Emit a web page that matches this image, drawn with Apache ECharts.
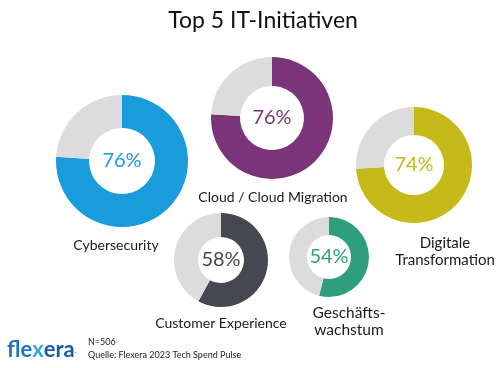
<!DOCTYPE html>
<html>
<head>
<meta charset="utf-8">
<script src="https://cdn.jsdelivr.net/npm/echarts@6/dist/echarts.min.js"></script>
<style>
html,body{margin:0;padding:0;background:#fff;}
#chart{width:501px;height:368px;}
</style>
</head>
<body>
<div id="chart"></div>
<script>
var categories = ['Cybersecurity', 'Cloud / Cloud Migration', 'Digitale Transformation', 'Customer Experience', 'Geschäftswachstum'];
var labelLines = ['Cybersecurity', 'Cloud / Cloud Migration', 'Digitale\nTransformation', 'Customer Experience', 'Geschäfts-\nwachstum'];
var values = [76, 76, 74, 58, 54];
var colors = ['#1a9bdb', '#7a3578', '#c6ba1b', '#45494f', '#2f9e7c'];
var titleText = 'Top 5 IT-Initiativen';
var footnoteN = 'N=506';
var footnoteSource = 'Quelle: Flexera 2023 Tech Spend Pulse';

// layout (positions/sizes)
var centers = [[122, 161], [272, 118], [414, 165], [221, 260], [329, 257]];
var radii = [[33, 66], [32, 61], [30, 58], [23, 47], [22, 40]];
var labelPos = [[116, 245], [273, 197], [445, 252], [221, 323], [349, 321]];
var labelSizes = [14, 14, 15, 14, 15.5];

var FONT = 'Lato, "Open Sans", sans-serif';

var series = categories.map(function (name, i) {
  return {
    type: 'pie',
    name: name,
    center: centers[i],
    radius: radii[i],
    startAngle: 90,
    clockwise: true,
    silent: true,
    animation: false,
    avoidLabelOverlap: false,
    labelLine: { show: false },
    data: [
      {
        value: values[i],
        name: name,
        itemStyle: { color: colors[i] },
        label: {
          show: true,
          position: 'center',
          formatter: '{c}%',
          color: colors[i],
          fontSize: 20,
          fontWeight: 'normal',
          fontFamily: FONT
        }
      },
      {
        value: 100 - values[i],
        name: 'Rest',
        itemStyle: { color: '#dcdcdc' },
        label: { show: false }
      }
    ]
  };
});

var graphics = labelLines.map(function (t, i) {
  return {
    type: 'text',
    x: labelPos[i][0],
    y: labelPos[i][1],
    style: {
      text: t,
      fill: '#1a1a1a',
      font: labelSizes[i] + 'px ' + FONT,
      align: 'center',
      verticalAlign: 'middle',
      lineHeight: 17
    }
  };
});

graphics.push({
  type: 'text', x: 263, y: 21,
  style: { text: titleText, fill: '#111', font: '23px ' + FONT, align: 'center', verticalAlign: 'middle' }
});
graphics.push({
  type: 'text', x: 88, y: 342,
  style: { text: footnoteN, fill: '#222', font: '9px ' + FONT, align: 'left', verticalAlign: 'middle' }
});
graphics.push({
  type: 'text', x: 88, y: 355,
  style: { text: footnoteSource, fill: '#222', font: '9px ' + FONT, align: 'left', verticalAlign: 'middle' }
});
graphics.push({
  type: 'text', x: 7, y: 350,
  style: {
    text: '{a|fle}{b|x}{c|era}{d|.}',
    verticalAlign: 'middle',
    align: 'left',
    rich: {
      a: { fill: '#1f73c0', font: 'bold 22px ' + FONT },
      b: { fill: '#35a8e0', font: 'bold 22px ' + FONT },
      c: { fill: '#1b5aa6', font: 'bold 22px ' + FONT },
      d: { fill: '#1b5aa6', font: '8px ' + FONT }
    }
  }
});

var chart = echarts.init(document.getElementById('chart'), null, { renderer: 'canvas' });
chart.setOption({
  backgroundColor: '#ffffff',
  animation: false,
  series: series,
  graphic: graphics
});
</script>
</body>
</html>
